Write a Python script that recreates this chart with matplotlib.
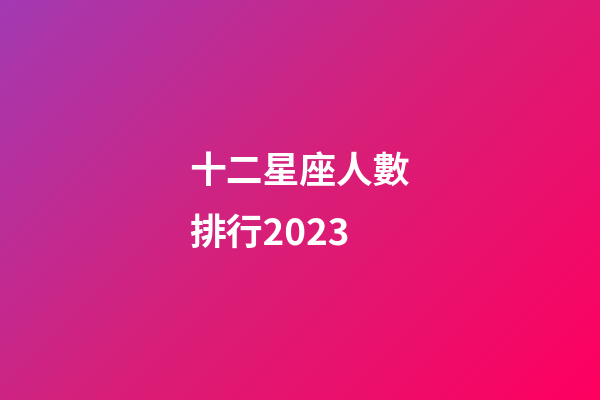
import matplotlib
matplotlib.use("Agg")
import matplotlib.pyplot as plt
from matplotlib.colors import LinearSegmentedColormap
import numpy as np

title_lines = ["十二星座人數", "排行2023"]
gradient_colors = ["#a33ab3", "#d81f78", "#ff0060"]

plt.rcParams['font.family'] = ['Noto Sans CJK TC', 'DejaVu Sans']

fig = plt.figure(figsize=(6, 4), dpi=100)
ax = fig.add_axes([0, 0, 1, 1])
ax.set_axis_off()

# diagonal gradient from top-left to bottom-right
xx, yy = np.meshgrid(np.linspace(0, 1, 600), np.linspace(0, 1, 400))
grad = (xx * 600 + yy * 400) / 1000
cmap = LinearSegmentedColormap.from_list("bg", gradient_colors)
ax.imshow(grad, cmap=cmap, extent=[0, 600, 400, 0], aspect='auto')
ax.set_xlim(0, 600)
ax.set_ylim(400, 0)

ax.text(189, 173, title_lines[0], color='white', fontsize=26.5,
        fontweight='bold', va='center', ha='left')
ax.text(189, 234, title_lines[1], color='white', fontsize=26.5,
        fontweight='bold', va='center', ha='left')

fig.savefig("out.png", dpi=100)
